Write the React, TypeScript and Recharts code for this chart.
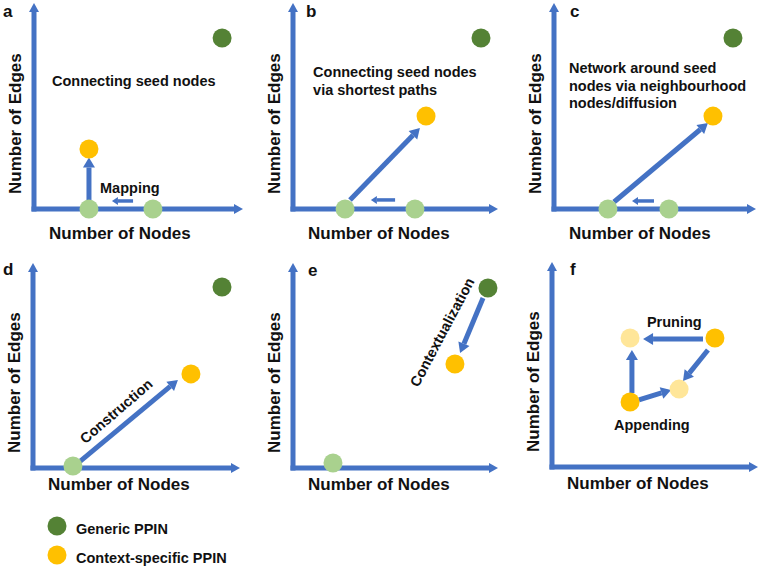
import React from "react";
import { ScatterChart, Scatter, XAxis, YAxis, ReferenceLine, ReferenceDot } from "recharts";

type Kind = "generic" | "seed" | "specific" | "intermediate";
type Node = { x: number; y: number; kind: Kind };
type Arrow = { from: [number, number]; to: [number, number]; type: "shift" | "transform" };
type Note = { x: number; y: number; lines: string[]; angle?: number };

// node positions (number of nodes, number of edges), 0-100 relative scale
const nodesA: Node[] = [
  { x: 90, y: 83, kind: "generic" },
  { x: 26.3, y: 29.1, kind: "specific" },
  { x: 26.3, y: 0, kind: "seed" },
  { x: 56.9, y: 0, kind: "seed" },
];
const nodesB: Node[] = [
  { x: 91.7, y: 83, kind: "generic" },
  { x: 64.9, y: 45.1, kind: "specific" },
  { x: 25.4, y: 0, kind: "seed" },
  { x: 59.5, y: 0, kind: "seed" },
];
const nodesC: Node[] = [
  { x: 88.6, y: 83, kind: "generic" },
  { x: 78.7, y: 45.1, kind: "specific" },
  { x: 26.7, y: 0, kind: "seed" },
  { x: 56.9, y: 0, kind: "seed" },
];
const nodesD: Node[] = [
  { x: 91.3, y: 88.3, kind: "generic" },
  { x: 76.3, y: 45.9, kind: "specific" },
  { x: 19.3, y: 1, kind: "seed" },
];
const nodesE: Node[] = [
  { x: 95.1, y: 87.8, kind: "generic" },
  { x: 79, y: 50.7, kind: "specific" },
  { x: 19.5, y: 2.4, kind: "seed" },
];
const nodesF: Node[] = [
  { x: 37.9, y: 62.9, kind: "intermediate" },
  { x: 79.1, y: 62.9, kind: "specific" },
  { x: 61.7, y: 38, kind: "intermediate" },
  { x: 37.9, y: 31.7, kind: "specific" },
];

const arrowsA: Arrow[] = [
  { from: [26.3, 2.9], to: [26.3, 25], type: "transform" },
  { from: [47.4, 3.9], to: [37.3, 3.9], type: "shift" },
];
const arrowsB: Arrow[] = [
  { from: [27.8, 4.4], to: [61.9, 39.3], type: "transform" },
  { from: [49.8, 4.4], to: [38, 4.4], type: "shift" },
];
const arrowsC: Arrow[] = [
  { from: [29.7, 3.4], to: [76.2, 41.7], type: "transform" },
  { from: [49.5, 3.9], to: [38.6, 3.9], type: "shift" },
];
const arrowsD: Arrow[] = [{ from: [21.7, 2.4], to: [70, 42.9], type: "transform" }];
const arrowsE: Arrow[] = [{ from: [92.7, 82.9], to: [81.5, 56.1], type: "transform" }];
const arrowsF: Arrow[] = [
  { from: [73.3, 62.4], to: [44.2, 62.4], type: "transform" },
  { from: [75.7, 57.1], to: [63.6, 42], type: "transform" },
  { from: [42.2, 32.7], to: [57.8, 37.6], type: "transform" },
  { from: [38.8, 36.1], to: [38.8, 57.1], type: "transform" },
];

const notesA: Note[] = [
  { x: 8.6, y: 59.7, lines: ["Connecting seed nodes"] },
  { x: 31.6, y: 7.8, lines: ["Mapping"] },
];
const notesB: Note[] = [{ x: 9.8, y: 64.1, lines: ["Connecting seed nodes", "via shortest paths"] }];
const notesC: Note[] = [
  { x: 7.4, y: 66, lines: ["Network around seed", "nodes via neighbourhood", "nodes/diffusion"] },
];
const notesD: Note[] = [{ x: 40.1, y: 27.8, lines: ["Construction"], angle: -40.7 }];
const notesE: Note[] = [{ x: 72.7, y: 66.3, lines: ["Contextualization"], angle: -62 }];
const notesF: Note[] = [
  { x: 46.1, y: 68.3, lines: ["Pruning"] },
  { x: 30.1, y: 18, lines: ["Appending"] },
];

const legendItems: { kind: Kind; label: string }[] = [
  { kind: "generic", label: "Generic PPIN" },
  { kind: "specific", label: "Context-specific PPIN" },
];

const COLORS: Record<Kind, string> = {
  generic: "#548235",
  seed: "#A9D18E",
  specific: "#FFC000",
  intermediate: "#FFE699",
};
const BLUE = "#4472C4";
const FONT = "'Liberation Sans', Arial, sans-serif";
const INK = "#111";

function arrowShape(width: number, headLen: number, headHalf: number, cap: "butt" | "square") {
  return (p: any) => {
    const { x1, y1, x2, y2 } = p;
    const dx = x2 - x1;
    const dy = y2 - y1;
    const len = Math.hypot(dx, dy) || 1;
    const ux = dx / len;
    const uy = dy / len;
    const bx = x2 - ux * headLen;
    const by = y2 - uy * headLen;
    const nx = -uy;
    const ny = ux;
    return (
      <g>
        <line x1={x1} y1={y1} x2={bx} y2={by} stroke={BLUE} strokeWidth={width} strokeLinecap={cap} />
        <polygon
          points={`${x2},${y2} ${bx + nx * headHalf},${by + ny * headHalf} ${bx - nx * headHalf},${by - ny * headHalf}`}
          fill={BLUE}
        />
      </g>
    );
  };
}

const axisArrow = arrowShape(5, 9, 5, "square");
const transformArrow = arrowShape(5, 10, 6, "butt");
const shiftArrow = arrowShape(3.5, 6, 4, "butt");

function noteShape(note: Note) {
  return (p: any) => {
    const { cx, cy } = p;
    if (note.angle !== undefined) {
      return (
        <text
          x={cx}
          y={cy}
          dy="0.36em"
          textAnchor="middle"
          transform={`rotate(${note.angle} ${cx} ${cy})`}
          fontFamily={FONT}
          fontWeight="bold"
          fontSize={14.5}
          fill={INK}
        >
          {note.lines[0]}
        </text>
      );
    }
    return (
      <text x={cx} y={cy} fontFamily={FONT} fontWeight="bold" fontSize={14.5} fill={INK}>
        {note.lines.map((l, i) => (
          <tspan key={i} x={cx} dy={i === 0 ? 0 : 17.7}>
            {l}
          </tspan>
        ))}
      </text>
    );
  };
}

type Box = { left: number; top: number; bottom: number; right: number; gap: number };

function Panel({ box, nodes, arrows, notes }: { box: Box; nodes: Node[]; arrows: Arrow[]; notes: Note[] }) {
  const kinds: Kind[] = ["seed", "intermediate", "specific", "generic"];
  return (
    <ScatterChart width={253} height={250} margin={{ top: box.top, right: 253 - box.right, left: 0, bottom: 0 }}>
      <XAxis
        type="number"
        dataKey="x"
        domain={[0, 100]}
        height={250 - box.bottom}
        tick={false}
        tickLine={false}
        axisLine={false}
        label={(p: any) => {
          const vb = p.viewBox;
          return (
            <text x={vb.x + 15} y={vb.y + box.gap} fontFamily={FONT} fontWeight="bold" fontSize={17} fill={INK}>
              Number of Nodes
            </text>
          );
        }}
      />
      <YAxis
        type="number"
        dataKey="y"
        domain={[0, 100]}
        width={box.left}
        tick={false}
        tickLine={false}
        axisLine={false}
        label={(p: any) => {
          const vb = p.viewBox;
          const x = vb.x + vb.width - 13.5;
          const y = vb.y + vb.height - 15;
          return (
            <text
              x={x}
              y={y}
              transform={`rotate(-90 ${x} ${y})`}
              fontFamily={FONT}
              fontWeight="bold"
              fontSize={17}
              fill={INK}
            >
              Number of Edges
            </text>
          );
        }}
      />
      <ReferenceLine segment={[{ x: 0, y: 0 }, { x: 100, y: 0 }]} ifOverflow="visible" shape={axisArrow} />
      <ReferenceLine segment={[{ x: 0, y: 0 }, { x: 0, y: 100 }]} ifOverflow="visible" shape={axisArrow} />
      {arrows.map((a, i) => (
        <ReferenceLine
          key={`a${i}`}
          segment={[
            { x: a.from[0], y: a.from[1] },
            { x: a.to[0], y: a.to[1] },
          ]}
          ifOverflow="visible"
          shape={a.type === "shift" ? shiftArrow : transformArrow}
        />
      ))}
      {kinds.map((k) => (
        <Scatter
          key={k}
          data={nodes.filter((n) => n.kind === k)}
          fill={COLORS[k]}
          isAnimationActive={false}
          shape={(p: any) => <circle cx={p.cx} cy={p.cy} r={9.5} fill={COLORS[k]} />}
        />
      ))}
      {notes.map((n, i) => (
        <ReferenceDot key={`n${i}`} x={n.x} y={n.y} ifOverflow="visible" shape={noteShape(n)} />
      ))}
    </ScatterChart>
  );
}

const panels = [
  { letter: "a", col: 0, row: 0, lx: 3, ly: 17, box: { left: 34, top: 3, bottom: 209, right: 243, gap: 30 }, nodes: nodesA, arrows: arrowsA, notes: notesA },
  { letter: "b", col: 1, row: 0, lx: 306, ly: 17, box: { left: 40, top: 3, bottom: 209, right: 245, gap: 30 }, nodes: nodesB, arrows: arrowsB, notes: notesB },
  { letter: "c", col: 2, row: 0, lx: 570, ly: 17, box: { left: 48, top: 3, bottom: 209, right: 250, gap: 30 }, nodes: nodesC, arrows: arrowsC, notes: notesC },
  { letter: "d", col: 0, row: 1, lx: 3, ly: 275, box: { left: 33, top: 13, bottom: 218, right: 240, gap: 22 }, nodes: nodesD, arrows: arrowsD, notes: notesD },
  { letter: "e", col: 1, row: 1, lx: 308, ly: 276, box: { left: 40, top: 13, bottom: 218, right: 245, gap: 22 }, nodes: nodesE, arrows: arrowsE, notes: notesE },
  { letter: "f", col: 2, row: 1, lx: 570, ly: 275, box: { left: 46, top: 12, bottom: 217, right: 252, gap: 22 }, nodes: nodesF, arrows: arrowsF, notes: notesF },
];

export default function App() {
  return (
    <div style={{ position: "absolute", left: 0, top: 0, width: 759, height: 567, background: "#fff" }}>
      {panels.map((p) => (
        <div key={p.letter} style={{ position: "absolute", left: p.col * 253, top: p.row * 250 }}>
          <Panel box={p.box} nodes={p.nodes} arrows={p.arrows} notes={p.notes} />
        </div>
      ))}
      <svg width={759} height={567} style={{ position: "absolute", left: 0, top: 0, pointerEvents: "none" }}>
        {panels.map((p) => (
          <text key={p.letter} x={p.lx} y={p.ly} fontFamily={FONT} fontWeight="bold" fontSize={17} fill={INK}>
            {p.letter}
          </text>
        ))}
        {legendItems.map((it, i) => (
          <g key={it.kind}>
            <circle cx={57} cy={526 + i * 29} r={9.5} fill={COLORS[it.kind]} />
            <text x={76} y={534 + i * 28.5} fontFamily={FONT} fontWeight="bold" fontSize={14.5} fill={INK}>
              {it.label}
            </text>
          </g>
        ))}
      </svg>
    </div>
  );
}
